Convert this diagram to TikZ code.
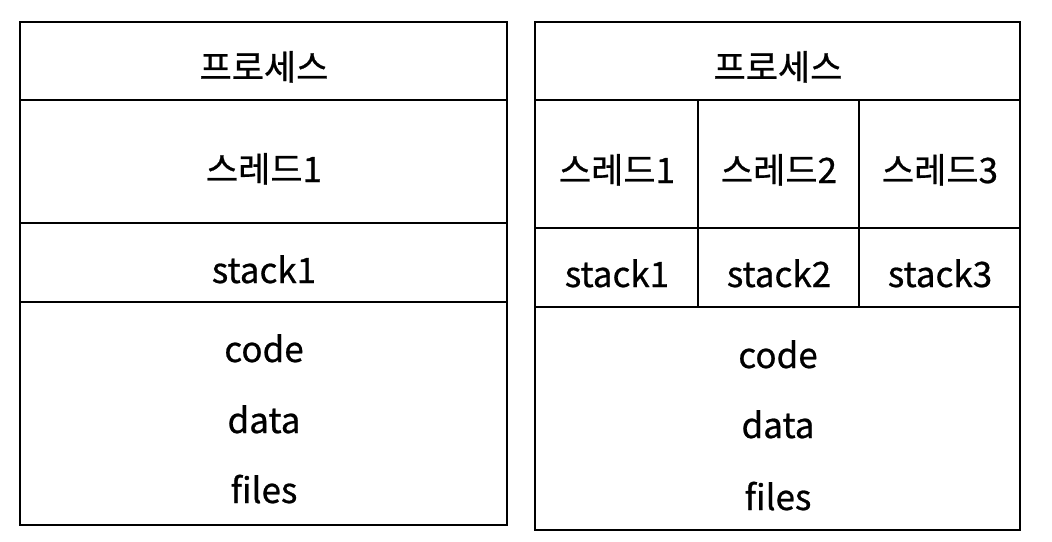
\documentclass[tikz,border=0pt]{standalone}
\usepackage{fontspec}
\setmainfont{Noto Sans CJK KR}[FakeBold=0.7]
\usepackage{tikz}

\tikzset{
	cell/.style={anchor=base,inner sep=0pt,font=\fontsize{35}{40}\selectfont},
	frame/.style={line width=2.2pt}
}

\begin{document}
\begin{tikzpicture}[x=1pt,y=-1pt]
	\useasboundingbox (0,0) rectangle (1052,541);

	% one thread
	\draw[frame] (20,22) rectangle (507,525);
	\draw[frame] (20,100) -- (507,100);
	\draw[frame] (20,223) -- (507,223);
	\draw[frame] (20,302) -- (507,302);
	\node[cell] (procA) at (264,80) {프로세스};
	\node[cell] (thrA) at (264,182) {스레드1};
	\node[cell] (stkA) at (264,283) {stack1};
	\node[cell] (codeA) at (264,362) {code};
	\node[cell] (dataA) at (264,433) {data};
	\node[cell] (filesA) at (264,503) {files};

	% three threads
	\draw[frame] (535,22) rectangle (1020,530);
	\draw[frame] (535,100) -- (1020,100);
	\draw[frame] (535,228) -- (1020,228);
	\draw[frame] (535,307) -- (1020,307);
	\draw[frame] (698,100) -- (698,307);
	\draw[frame] (859,100) -- (859,307);
	\node[cell] (procB) at (778,80) {프로세스};
	\foreach \i/\x in {1/617,2/779,3/940} {
		\node[cell] (thrB\i) at (\x,183) {스레드\i};
		\node[cell] (stkB\i) at (\x,287) {stack\i};
	}
	\node[cell] (codeB) at (778,368) {code};
	\node[cell] (dataB) at (778,438) {data};
	\node[cell] (filesB) at (778,510) {files};
\end{tikzpicture}
\end{document}
